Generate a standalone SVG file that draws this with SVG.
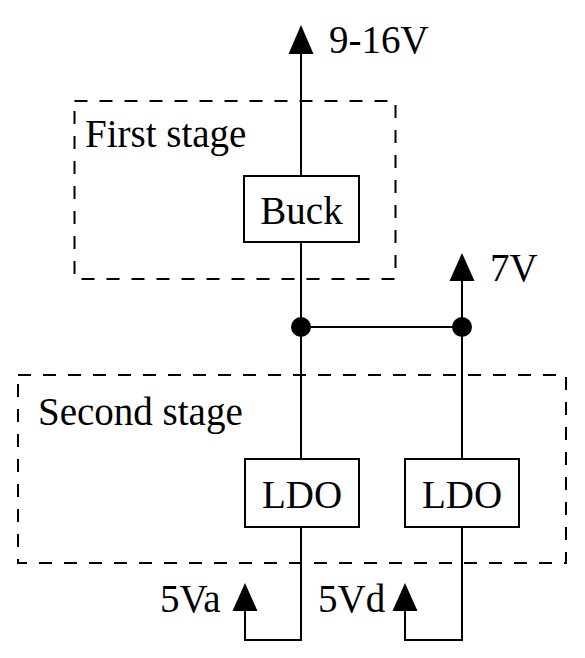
<svg xmlns="http://www.w3.org/2000/svg" width="585" height="658" viewBox="0 0 585 658">
<defs>
<style>
.t{font-family:"Liberation Serif","Times New Roman",serif;font-size:39px;fill:#000}
.box{fill:#fff;stroke:#000;stroke-width:2}
.dash{fill:none;stroke:#000;stroke-width:2;stroke-dasharray:13 12}
.w{fill:none;stroke:#000;stroke-width:2}
.ah{fill:#000}
</style>
</defs>
<rect width="585" height="658" fill="#fff"/>
<g id="first-stage">
<rect class="dash" x="74.5" y="101" width="321" height="178"/>
<text class="t" x="85" y="147">First stage</text>
</g>
<g id="second-stage">
<rect class="dash" x="18" y="375" width="548" height="188"/>
<text class="t" x="38" y="425">Second stage</text>
</g>
<g id="connectors">
<path class="w" d="M301 50 V176 M301 242 V459 M301 527 V640 H245 V608"/>
<path class="w" d="M301 327 H462 M462 278 V459 M462 527 V640 H405 V608"/>
<polygon class="ah" points="301,25 288.5,54 313.5,54"/>
<polygon class="ah" points="462,253 449.5,281 474.5,281"/>
<polygon class="ah" points="245,583 232.5,611 257.5,611"/>
<polygon class="ah" points="405,583 392.5,611 417.5,611"/>
<circle cx="301" cy="327" r="10"/>
<circle cx="462" cy="327" r="10"/>
</g>
<g id="buck">
<rect class="box" x="244" y="176" width="115" height="66"/>
<text class="t" x="301.5" y="224" text-anchor="middle">Buck</text>
</g>
<g id="ldo1">
<rect class="box" x="245" y="459" width="114" height="68"/>
<text class="t" x="302" y="508" text-anchor="middle">LDO</text>
</g>
<g id="ldo2">
<rect class="box" x="405" y="459" width="114" height="68"/>
<text class="t" x="462" y="508" text-anchor="middle">LDO</text>
</g>
<g id="labels">
<text class="t" x="329" y="53">9-16V</text>
<text class="t" x="490" y="281">7V</text>
<text class="t" x="160" y="612">5Va</text>
<text class="t" x="318" y="612">5Vd</text>
</g>
</svg>
